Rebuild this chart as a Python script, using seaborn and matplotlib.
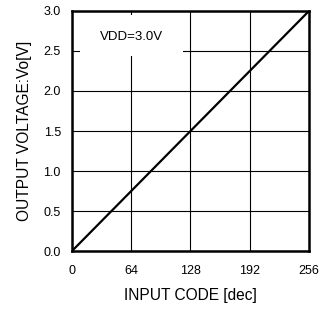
import pandas as pd
import matplotlib
matplotlib.use('Agg')
import matplotlib.pyplot as plt
from matplotlib.patches import Rectangle
import seaborn as sns

# DAC output vs. input code, VDD = 3.0 V
codes = [0, 64, 128, 192, 256]
volts = [0.0, 0.75, 1.5, 2.25, 3.0]
xticks = [0, 64, 128, 192, 256]
yticks = [0.0, 0.5, 1.0, 1.5, 2.0, 2.5, 3.0]

sns.set_style('white')
plt.rcParams['font.family'] = ['Liberation Sans', 'DejaVu Sans']

df = pd.DataFrame({'code': codes, 'vo': volts})

fig = plt.figure(figsize=(3.31, 3.14), dpi=100)
ax = fig.add_axes([0.2175, 0.2006, 0.716, 0.7644])

sns.lineplot(data=df, x='code', y='vo', color='black', linewidth=1.6, ax=ax, zorder=5)

ax.set_xlim(0, 256)
ax.set_ylim(0, 3.0)
ax.set_xticks(xticks)
ax.set_yticks(yticks)
ax.set_yticklabels([f'{v:.1f}' for v in yticks])
ax.grid(True, color='black', linewidth=0.8)
ax.set_axisbelow(True)
ax.tick_params(axis='both', length=0, labelsize=9, colors='black')
ax.tick_params(axis='x', pad=10)
ax.tick_params(axis='y', pad=8)
for s in ax.spines.values():
    s.set_linewidth(1.8)
    s.set_color('black')
    s.set_zorder(6)

ax.add_patch(Rectangle((8.6, 2.44), 111.4, 0.51, facecolor='white', edgecolor='none', zorder=3))
ax.text(64, 2.68, 'VDD=3.0V', ha='center', va='center', fontsize=9.5, color='black', zorder=4)

ax.set_xlabel('INPUT CODE [dec]', fontsize=11.2, labelpad=8, color='black')
ax.set_ylabel('OUTPUT VOLTAGE:Vo[V]', fontsize=11.2, labelpad=8, color='black')

fig.savefig('out.png', dpi=100)
